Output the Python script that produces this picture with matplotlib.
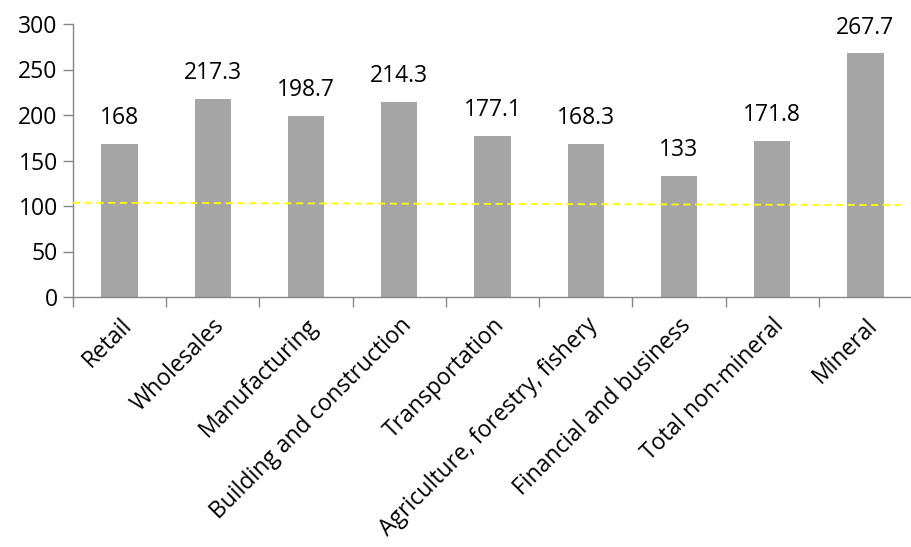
import matplotlib
matplotlib.use("Agg")
import matplotlib.pyplot as plt
import numpy as np

# sector values
sectors = ["Retail", "Wholesales", "Manufacturing", "Building and construction",
           "Transportation", "Agriculture, forestry, fishery", "Financial and business",
           "Total non-mineral", "Mineral"]
values = [168, 217.3, 198.7, 214.3, 177.1, 168.3, 133, 171.8, 267.7]
value_text = ["168", "217.3", "198.7", "214.3", "177.1", "168.3", "133", "171.8", "267.7"]

# dashed reference line (slightly sloped)
ref_start = 103.6
ref_end = 101.0

plt.rcParams['font.family'] = ['Open Sans', 'DejaVu Sans']
FS = 16.5

fig = plt.figure(figsize=(9.12, 5.47), dpi=100)
ax = fig.add_axes([73/912, 1 - 297/547, (912-73)/912, 273/547])

x = np.arange(len(sectors))
ax.bar(x, values, width=0.39, color="#A5A5A5", zorder=2)

for xi, v, t in zip(x, values, value_text):
    ax.annotate(t, (xi, v), xytext=(0, 10), textcoords="offset points",
                ha="center", va="bottom", fontsize=FS)

xmax = -0.5 + (912-73)/94.5
ax.plot([-0.5, xmax], [ref_start, ref_end], color="#FFFF00", ls="--",
        lw=1.3, dashes=(4, 2.5), zorder=3)

ax.set_xlim(-0.5, xmax)
ax.set_ylim(0, 300)
ax.set_yticks(range(0, 301, 50))
ax.set_xticks(np.arange(-0.5, 9, 1), minor=False)
ax.set_xticklabels([])
ax.set_xticks(x, minor=True)
ax.set_xticklabels(sectors, minor=True, rotation=45, ha="right",
                   rotation_mode="anchor", fontsize=FS)
ax.tick_params(axis="x", which="minor", length=0, pad=12)
ax.tick_params(axis="x", which="major", length=7, color="#868686", width=1)
ax.tick_params(axis="y", length=7, color="#868686", width=1, labelsize=FS, pad=4)

for s in ["top", "right"]:
    ax.spines[s].set_visible(False)
for s in ["left", "bottom"]:
    ax.spines[s].set_color("#868686")
    ax.spines[s].set_linewidth(1)

fig.savefig("out.png", dpi=100)
